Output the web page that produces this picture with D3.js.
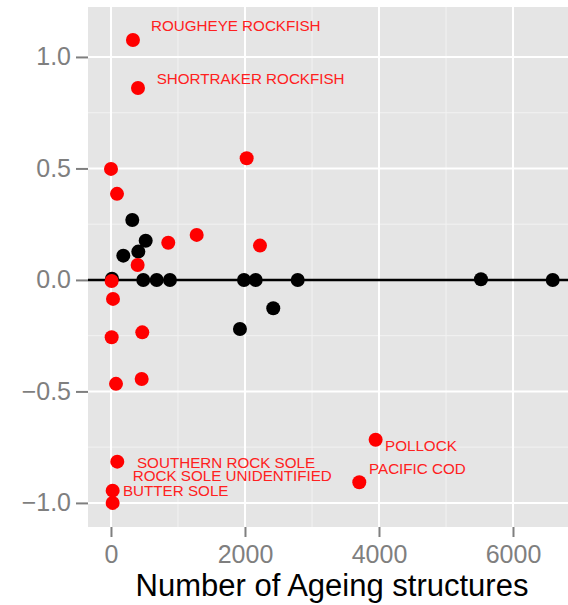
<!DOCTYPE html>
<html>
<head>
<meta charset="utf-8">
<script src="https://cdn.jsdelivr.net/npm/d3@7"></script>
<style>
  body { margin: 0; background: #fff; }
  svg { display: block; font-family: "Liberation Sans", Arial, sans-serif; }
</style>
</head>
<body>
<svg id="chart"></svg>
<script>
var width = 568, height = 605;

// black points: [number of ageing structures, value]
var blackPts = [
  [15, 0.005], [184, 0.109], [318, 0.269], [408, 0.127], [518, 0.176],
  [482, 0], [682, 0], [880, 0], [1985, 0], [2160, 0], [2787, 0],
  [1925, -0.22], [2422, -0.127], [5522, 0.003], [6593, 0]
];

// red points
var redPts = [
  [328, 1.076], [403, 0.861], [0, 0.498], [90, 0.386], [2025, 0.546],
  [1279, 0.202], [855, 0.167], [2224, 0.154], [398, 0.067], [10, -0.005],
  [30, -0.085], [10, -0.257], [467, -0.235], [75, -0.466], [458, -0.444],
  [94, -0.815], [25, -0.945], [25, -1.0], [3950, -0.717], [3706, -0.907]
];

// species labels placed at [x, y] (left edge, middle)
var labelNames = ["ROUGHEYE ROCKFISH", "SHORTRAKER ROCKFISH", "SOUTHERN ROCK SOLE",
  "ROCK SOLE UNIDENTIFIED", "BUTTER SOLE", "POLLOCK", "PACIFIC COD"];
var labelPos = [[597, 1.143], [682, 0.904], [388, -0.817], [324, -0.876],
  [179, -0.945], [4090, -0.743], [3851, -0.848]];

var xTicks = [0, 2000, 4000, 6000];
var xMinor = [1000, 3000, 5000];
var yTicks = [-1.0, -0.5, 0.0, 0.5, 1.0];
var yMinor = [-0.75, -0.25, 0.25, 0.75];

var svg = d3.select("#chart").attr("width", width).attr("height", height);

var x = d3.scaleLinear().domain([-343, 6821]).range([88, 568]);
var y = d3.scaleLinear().domain([-1.108, 1.224]).range([527, 7]);

var fmt = function(d) { return d3.format(".1f")(d).replace("-", "\u2212"); };

// panel
svg.append("rect")
    .attr("x", x.range()[0]).attr("y", y.range()[1])
    .attr("width", x.range()[1] - x.range()[0])
    .attr("height", y.range()[0] - y.range()[1])
    .attr("fill", "#e5e5e5");

var grid = svg.append("g");
grid.selectAll(".vmin").data(xMinor).enter().append("line")
    .attr("x1", x).attr("x2", x).attr("y1", y.range()[1]).attr("y2", y.range()[0])
    .attr("stroke", "#f2f2f2").attr("stroke-width", 1);
grid.selectAll(".hmin").data(yMinor).enter().append("line")
    .attr("y1", y).attr("y2", y).attr("x1", x.range()[0]).attr("x2", x.range()[1])
    .attr("stroke", "#f2f2f2").attr("stroke-width", 1);
grid.selectAll(".vmaj").data(xTicks).enter().append("line")
    .attr("x1", x).attr("x2", x).attr("y1", y.range()[1]).attr("y2", y.range()[0])
    .attr("stroke", "#fff").attr("stroke-width", 2);
grid.selectAll(".hmaj").data(yTicks).enter().append("line")
    .attr("y1", y).attr("y2", y).attr("x1", x.range()[0]).attr("x2", x.range()[1])
    .attr("stroke", "#fff").attr("stroke-width", 2);

// zero line
svg.append("line")
    .attr("x1", x.range()[0]).attr("x2", x.range()[1])
    .attr("y1", y(0)).attr("y2", y(0))
    .attr("stroke", "#000").attr("stroke-width", 2.5);

// axes
var xAxis = svg.append("g")
    .attr("transform", "translate(0," + y.range()[0] + ")")
    .call(d3.axisBottom(x).tickValues(xTicks).tickSize(10).tickPadding(8).tickFormat(d3.format("d")));
var yAxis = svg.append("g")
    .attr("transform", "translate(" + x.range()[0] + ",0)")
    .call(d3.axisLeft(y).tickValues(yTicks).tickSize(12).tickPadding(5).tickFormat(fmt));
[xAxis, yAxis].forEach(function(a) {
  a.select(".domain").remove();
  a.selectAll(".tick line").attr("stroke", "#7f7f7f").attr("stroke-width", 2);
  a.selectAll(".tick text").attr("fill", "#7f7f7f")
      .style("font-size", "25px").style("font-family", "Liberation Sans, Arial, sans-serif");
});

// points
svg.append("g").selectAll("circle").data(blackPts).enter().append("circle")
    .attr("cx", function(d) { return x(d[0]); })
    .attr("cy", function(d) { return y(d[1]); })
    .attr("r", 7).attr("fill", "#000");
svg.append("g").selectAll("circle").data(redPts).enter().append("circle")
    .attr("cx", function(d) { return x(d[0]); })
    .attr("cy", function(d) { return y(d[1]); })
    .attr("r", 7).attr("fill", "#ff0000");

// labels
svg.append("g").selectAll("text").data(labelNames).enter().append("text")
    .attr("x", function(d, i) { return x(labelPos[i][0]); })
    .attr("y", function(d, i) { return y(labelPos[i][1]); })
    .attr("dy", "0.36em")
    .attr("fill", "#ff2020")
    .style("font-size", "15.2px")
    .text(function(d) { return d; });

// axis title
svg.append("text")
    .attr("x", 332).attr("y", 596)
    .attr("text-anchor", "middle")
    .style("font-size", "31px")
    .attr("fill", "#000")
    .text("Number of Ageing structures");
</script>
</body>
</html>
